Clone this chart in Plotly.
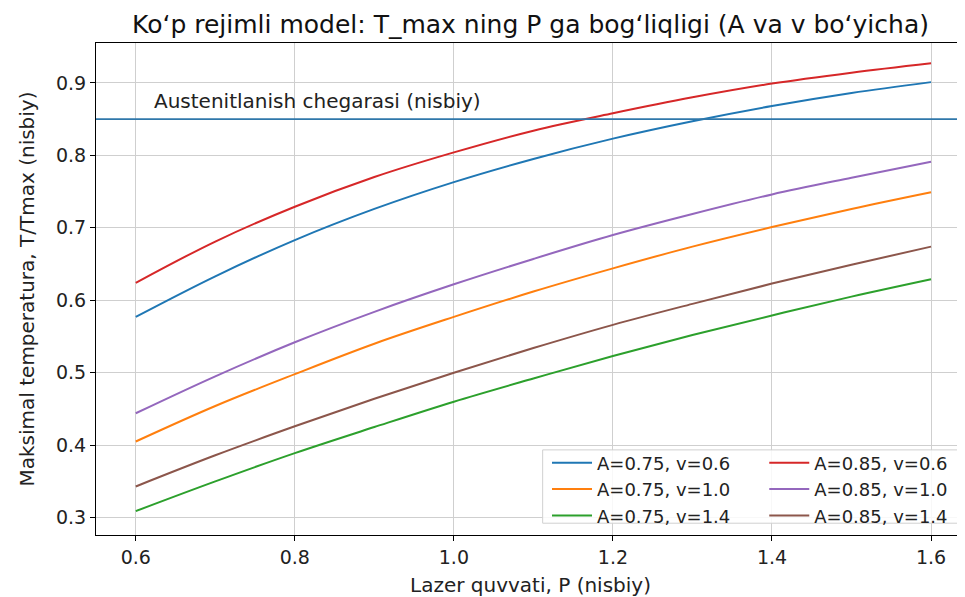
import plotly.graph_objects as go

P = [0.6, 0.7, 0.8, 0.9, 1.0, 1.1, 1.2, 1.3, 1.4, 1.5, 1.6]

t_a075_v06 = [0.577, 0.633, 0.683, 0.726, 0.763, 0.795, 0.823, 0.847, 0.868, 0.886, 0.901]
t_a075_v10 = [0.405, 0.454, 0.498, 0.540, 0.577, 0.612, 0.644, 0.674, 0.701, 0.726, 0.749]
t_a075_v14 = [0.309, 0.350, 0.389, 0.425, 0.460, 0.492, 0.523, 0.552, 0.579, 0.605, 0.629]
t_a085_v06 = [0.624, 0.681, 0.729, 0.770, 0.804, 0.834, 0.858, 0.880, 0.899, 0.914, 0.927]
t_a085_v10 = [0.444, 0.495, 0.542, 0.584, 0.622, 0.657, 0.690, 0.719, 0.746, 0.769, 0.791]
t_a085_v14 = [0.343, 0.386, 0.426, 0.464, 0.500, 0.534, 0.566, 0.595, 0.623, 0.649, 0.674]

threshold = 0.85
threshold_label = "Austenitlanish chegarasi (nisbiy)"

series = [
    ("A=0.75, v=0.6", t_a075_v06, "#1f77b4", "legend"),
    ("A=0.75, v=1.0", t_a075_v10, "#ff7f0e", "legend"),
    ("A=0.75, v=1.4", t_a075_v14, "#2ca02c", "legend"),
    ("A=0.85, v=0.6", t_a085_v06, "#d62728", "legend2"),
    ("A=0.85, v=1.0", t_a085_v10, "#9467bd", "legend2"),
    ("A=0.85, v=1.4", t_a085_v14, "#8c564b", "legend2"),
]

FONT = "DejaVu Sans"
fig = go.Figure()
for name, ys, col, lg in series:
    fig.add_trace(go.Scatter(x=P, y=ys, mode="lines", name=name,
                             line=dict(color=col, width=2, shape="spline", smoothing=1.0),
                             legend=lg))

fig.add_hline(y=threshold, line=dict(color="#2f77aa", width=1.6))
fig.add_annotation(x=0.62, y=threshold, xref="x", yref="y", text=threshold_label,
                   showarrow=False, xanchor="left", yanchor="bottom", yshift=4,
                   font=dict(family=FONT, size=20, color="#222"))

# legend frame
fig.add_shape(type="rect", xref="paper", yref="paper", x0=0.514, x1=0.993, y0=0.024, y1=0.173,
              line=dict(color="#d0d0d0", width=1), fillcolor="rgba(255,255,255,0.85)", layer="above")

axis_common = dict(showline=True, linecolor="black", linewidth=1.2, ticks="outside",
                   ticklen=5, tickcolor="black", showgrid=True, gridcolor="#cfcfcf",
                   gridwidth=1, zeroline=False, automargin=False,
                   tickfont=dict(family=FONT, size=19, color="#222"))

# the page adds an 8px body margin, so the figure is sized to fit the 965x597 window
fig.update_layout(
    width=957, height=589,
    margin=dict(l=88, r=0, t=35, b=62),
    plot_bgcolor="white", paper_bgcolor="white",
    font=dict(family=FONT, color="#222"),
    title=dict(text="Ko‘p rejimli model: T_max ning P ga bog‘liqligi (A va v bo‘yicha)",
               x=0.5, xref="paper", xanchor="center", y=0.973, yref="container", yanchor="middle",
               font=dict(family=FONT, size=25, color="#111")),
    xaxis=dict(range=[0.55, 1.6427], tickvals=[0.6, 0.8, 1.0, 1.2, 1.4, 1.6],
               ticktext=["0.6", "0.8", "1.0", "1.2", "1.4", "1.6"], mirror=True,
               title=dict(text="Lazer quvvati, P (nisbiy)", font=dict(family=FONT, size=20)),
               **axis_common),
    yaxis=dict(range=[0.276, 0.955], tickvals=[0.3, 0.4, 0.5, 0.6, 0.7, 0.8, 0.9],
               ticktext=["0.3", "0.4", "0.5", "0.6", "0.7", "0.8", "0.9"],
               title=dict(text="Maksimal temperatura, T/Tmax (nisbiy)", font=dict(family=FONT, size=20)),
               **axis_common),
    legend=dict(x=0.519, y=0.184, xanchor="left", yanchor="top", bgcolor="rgba(0,0,0,0)",
                font=dict(family=FONT, size=18, color="#222"), tracegroupgap=0, itemwidth=40),
    legend2=dict(x=0.769, y=0.184, xanchor="left", yanchor="top", bgcolor="rgba(0,0,0,0)",
                 font=dict(family=FONT, size=18, color="#222"), tracegroupgap=0, itemwidth=40),
)

fig.write_html("out.html")
